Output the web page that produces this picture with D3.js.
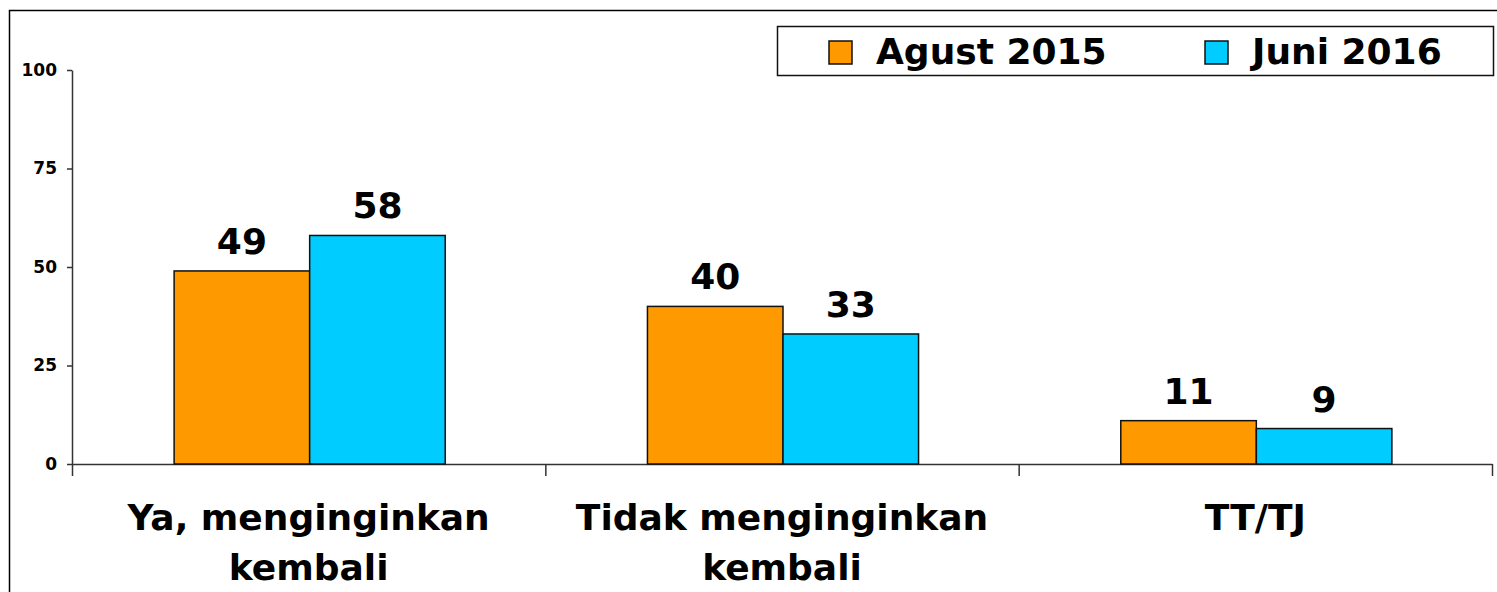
<!DOCTYPE html>
<html>
<head>
<meta charset="utf-8">
<script src="https://cdn.jsdelivr.net/npm/d3@7"></script>
<style>
  body { margin: 0; background: #fff; }
  svg { display: block; font-family: "DejaVu Sans", Verdana, sans-serif; font-weight: bold; }
</style>
</head>
<body>
<svg id="chart" width="1497" height="592"></svg>
<script>
// values
const categories = [["Ya, menginginkan", "kembali"], ["Tidak menginginkan", "kembali"], ["TT/TJ"]];
const seriesNames = ["Agust 2015", "Juni 2016"];
const agust2015 = [49, 40, 11];
const juni2016 = [58, 33, 9];
const yTicks = [0, 25, 50, 75, 100];
const colors = ["#FF9900", "#00CCFF"];

const svg = d3.select("#chart");
const plotLeft = 72, plotRight = 1492, plotTop = 70, plotBottom = 464;

// outer frame
svg.append("rect")
    .attr("x", 9.5).attr("y", 10.5)
    .attr("width", 1500).attr("height", 600)
    .attr("fill", "none").attr("stroke", "#000").attr("stroke-width", 1.5);

const idx = d3.range(categories.length);
const x0 = d3.scaleBand().domain(idx).range([plotLeft, plotRight]).paddingInner(0);
const x1 = d3.scaleBand().domain([0, 1]).range([1, x0.bandwidth() + 1]).paddingInner(0).paddingOuter(0.746);
const y = d3.scaleLinear().domain([0, 100]).range([plotBottom, plotTop]);

// y axis
const yAxis = svg.append("g")
    .attr("transform", `translate(${plotLeft},0)`)
    .call(d3.axisLeft(y).tickValues(yTicks).tickSize(5).tickPadding(10).tickSizeOuter(0));
yAxis.select(".domain").attr("stroke", "#333").attr("stroke-width", 1.5);
yAxis.selectAll(".tick line").attr("stroke", "#333").attr("stroke-width", 1.5);
yAxis.selectAll(".tick text")
    .attr("font-size", 17).attr("font-weight", "bold").attr("fill", "#000")
    .attr("font-family", "DejaVu Sans, Verdana, sans-serif");

// x axis with ticks on the band boundaries
const xb = d3.scaleLinear().domain([0, categories.length]).range([plotLeft, plotRight]);
const xAxis = svg.append("g")
    .attr("transform", `translate(0,${plotBottom})`)
    .call(d3.axisBottom(xb).tickValues(d3.range(categories.length + 1)).tickSize(12).tickSizeOuter(0).tickFormat(""));
xAxis.select(".domain").attr("stroke", "#333").attr("stroke-width", 1.5);
xAxis.selectAll(".tick line").attr("stroke", "#333").attr("stroke-width", 1.5);

// bars
const rows = idx.map(i => [agust2015[i], juni2016[i]]);
const groups = svg.append("g").selectAll("g")
    .data(rows)
    .join("g")
    .attr("transform", (d, i) => `translate(${x0(i)},0)`);

groups.selectAll("rect")
    .data(d => d.map((v, s) => ({ v, s })))
    .join("rect")
    .attr("x", d => x1(d.s))
    .attr("y", d => y(d.v))
    .attr("width", x1.bandwidth())
    .attr("height", d => y(0) - y(d.v))
    .attr("fill", d => colors[d.s])
    .attr("stroke", "#111")
    .attr("stroke-width", 1.5);

groups.selectAll("text.val")
    .data(d => d.map((v, s) => ({ v, s })))
    .join("text")
    .attr("class", "val")
    .attr("x", d => x1(d.s) + x1.bandwidth() / 2)
    .attr("y", d => y(d.v) - 17)
    .attr("text-anchor", "middle")
    .attr("font-size", 36)
    .text(d => d.v);

// category labels
const cat = svg.append("g").selectAll("text")
    .data(categories)
    .join("text")
    .attr("text-anchor", "middle")
    .attr("font-size", 36)
    .attr("x", (d, i) => x0(i) + x0.bandwidth() / 2)
    .attr("y", 530);
cat.selectAll("tspan")
    .data(d => d)
    .join("tspan")
    .attr("x", function () { return d3.select(this.parentNode).attr("x"); })
    .attr("dy", (d, i) => i === 0 ? 0 : 50)
    .text(d => d);

// legend
const legend = svg.append("g");
legend.append("rect")
    .attr("x", 777.5).attr("y", 26.5)
    .attr("width", 716).attr("height", 49)
    .attr("fill", "#fff").attr("stroke", "#111").attr("stroke-width", 1.5);
const legendX = [829, 1205];
seriesNames.forEach((name, s) => {
    legend.append("rect")
        .attr("x", legendX[s]).attr("y", 41)
        .attr("width", 23).attr("height", 23)
        .attr("fill", colors[s]).attr("stroke", "#111").attr("stroke-width", 1.5);
    legend.append("text")
        .attr("x", legendX[s] + 47).attr("y", 64)
        .attr("font-size", 36)
        .text(name);
});
</script>
</body>
</html>
